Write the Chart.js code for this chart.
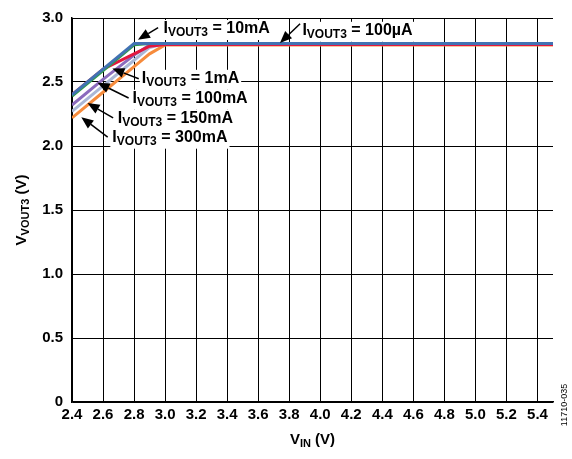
<!DOCTYPE html>
<html lang="en">
<head>
    <meta charset="UTF-8">
    <title>VOUT3 vs VIN</title>
    <script src="https://cdn.jsdelivr.net/npm/chart.js"></script>
    <style>
        body {
            margin: 0;
            padding: 0;
            background: #fff;
        }

        .chart-wrapper {
            width: 572px;
            height: 459px;
        }
    </style>
</head>
<body>
    <div class="chart-wrapper">
        <canvas id="chart" width="572" height="459"></canvas>
    </div>

    <script>
        // input voltage break points (V)
        const vin = [2.4, 2.6, 2.8, 2.9, 3.0, 5.5];

        // output voltage for each load current (V)
        const vout100uA = [2.40, 2.60, 2.80, 2.80, 2.80, 2.80];
        const vout10mA = [2.39, 2.59, 2.79, 2.80, 2.80, 2.80];
        const vout1mA = [2.40, 2.60, 2.72, 2.78, 2.792, 2.792];
        const vout100mA = [2.32, 2.52, 2.71, 2.79, 2.80, 2.80];
        const vout150mA = [2.27, 2.47, 2.67, 2.77, 2.80, 2.80];
        const vout300mA = [2.22, 2.42, 2.62, 2.72, 2.79, 2.79];

        const xTicks = [2.4, 2.6, 2.8, 3.0, 3.2, 3.4, 3.6, 3.8, 4.0, 4.2, 4.4, 4.6, 4.8, 5.0, 5.2, 5.4];
        const yTicks = [0, 0.5, 1.0, 1.5, 2.0, 2.5, 3.0];

        const FONT = '"Liberation Sans", Arial, sans-serif';

        function toPoints(ys) {
            return vin.map((x, i) => ({ x: x, y: ys[i] }));
        }

        // callouts: text start, arrow tail and arrow tip in data units
        const callouts = [
            { text: '10mA', at: [2.99, 2.914], tail: [2.955, 2.925], tip: [2.825, 2.83] },
            { text: '100\u00b5A', at: [3.885, 2.9], tail: [3.87, 2.955], tip: [3.74, 2.805] },
            { text: '1mA', at: [2.85, 2.525], tail: [2.83, 2.525], tip: [2.66, 2.605] },
            { text: '100mA', at: [2.79, 2.369], tail: [2.765, 2.375], tip: [2.565, 2.495] },
            { text: '150mA', at: [2.695, 2.213], tail: [2.665, 2.22], tip: [2.5, 2.335] },
            { text: '300mA', at: [2.66, 2.065], tail: [2.63, 2.07], tip: [2.46, 2.225] }
        ];

        function drawSubText(ctx, x, y, parts, align) {
            // parts: [text, size, baselineShift]
            let total = 0;
            parts.forEach(p => {
                ctx.font = 'bold ' + p[1] + 'px ' + FONT;
                total += ctx.measureText(p[0]).width;
            });
            let cx = align === 'center' ? x - total / 2 : x;
            parts.forEach(p => {
                ctx.font = 'bold ' + p[1] + 'px ' + FONT;
                ctx.fillText(p[0], cx, y + p[2]);
                cx += ctx.measureText(p[0]).width;
            });
            return total;
        }

        function drawArrow(ctx, x0, y0, x1, y1) {
            const ang = Math.atan2(y1 - y0, x1 - x0);
            const headLen = 12;
            const headW = 5;
            const bx = x1 - headLen * Math.cos(ang);
            const by = y1 - headLen * Math.sin(ang);
            ctx.strokeStyle = '#000';
            ctx.lineWidth = 1.5;
            ctx.beginPath();
            ctx.moveTo(x0, y0);
            ctx.lineTo(bx, by);
            ctx.stroke();
            ctx.fillStyle = '#000';
            ctx.beginPath();
            ctx.moveTo(x1, y1);
            ctx.lineTo(bx + headW * Math.sin(ang), by - headW * Math.cos(ang));
            ctx.lineTo(bx - headW * Math.sin(ang), by + headW * Math.cos(ang));
            ctx.closePath();
            ctx.fill();
        }

        const labelsPlugin = {
            id: 'labelsPlugin',
            afterDatasetsDraw(chart) {
                const ctx = chart.ctx;
                const xs = chart.scales.x;
                const ys = chart.scales.y;
                ctx.save();
                ctx.textBaseline = 'middle';
                ctx.textAlign = 'left';
                callouts.forEach(c => {
                    const tx = xs.getPixelForValue(c.at[0]);
                    const ty = ys.getPixelForValue(c.at[1]);
                    const parts = [['I', 16, 0], ['VOUT3', 12, 4], [' = ' + c.text, 16, 0]];
                    let w = 0;
                    parts.forEach(p => {
                        ctx.font = 'bold ' + p[1] + 'px ' + FONT;
                        w += ctx.measureText(p[0]).width;
                    });
                    ctx.fillStyle = '#fff';
                    ctx.fillRect(tx - 2, ty - 9, w + 4, 20);
                    ctx.fillStyle = '#000';
                    drawSubText(ctx, tx, ty, parts, 'left');
                    drawArrow(ctx,
                        xs.getPixelForValue(c.tail[0]), ys.getPixelForValue(c.tail[1]),
                        xs.getPixelForValue(c.tip[0]), ys.getPixelForValue(c.tip[1]));
                });
                ctx.restore();
            },
            afterDraw(chart) {
                const ctx = chart.ctx;
                const area = chart.chartArea;
                ctx.save();
                ctx.fillStyle = '#000';
                ctx.textBaseline = 'middle';
                // x axis title
                drawSubText(ctx, (area.left + area.right) / 2, 440,
                    [['V', 15, 0], ['IN', 11, 4], [' (V)', 15, 0]], 'center');
                // y axis title
                ctx.translate(22, (area.top + area.bottom) / 2);
                ctx.rotate(-Math.PI / 2);
                drawSubText(ctx, 0, 0,
                    [['V', 15, 0], ['VOUT3', 11, 4], [' (V)', 15, 0]], 'center');
                ctx.restore();
                // figure id
                ctx.save();
                ctx.translate(565, 405);
                ctx.rotate(-Math.PI / 2);
                ctx.font = '9px ' + FONT;
                ctx.textAlign = 'center';
                ctx.textBaseline = 'middle';
                ctx.fillStyle = '#000';
                ctx.fillText('11710-035', 0, 0);
                ctx.restore();
            }
        };

        function series(label, ys, color, order) {
            return {
                label: label,
                data: toPoints(ys),
                borderColor: color,
                backgroundColor: color,
                borderWidth: 3,
                pointRadius: 0,
                showLine: true,
                fill: false,
                tension: 0,
                order: order
            };
        }

        new Chart(document.getElementById('chart'), {
            type: 'scatter',
            data: {
                datasets: [
                    series('100\u00b5A', vout100uA, '#4272b3', 0),
                    series('10mA', vout10mA, '#2f9a4c', 1),
                    series('1mA', vout1mA, '#e3173f', 2),
                    series('100mA', vout100mA, '#8b6bbd', 3),
                    series('150mA', vout150mA, '#aab7d6', 4),
                    series('300mA', vout300mA, '#f68b3c', 5)
                ]
            },
            options: {
                responsive: false,
                animation: false,
                layout: {
                    padding: { top: 17, right: 19, left: 0, bottom: 0 }
                },
                plugins: {
                    legend: { display: false },
                    tooltip: { enabled: false }
                },
                scales: {
                    x: {
                        type: 'linear',
                        min: 2.4,
                        max: 5.5,
                        afterBuildTicks: s => { s.ticks = xTicks.map(v => ({ value: v })); },
                        afterFit: s => { s.height = 57; },
                        grid: { color: '#000', lineWidth: 1, drawTicks: false },
                        border: { color: '#000', width: 1.5 },
                        ticks: {
                            color: '#000',
                            padding: 4,
                            maxRotation: 0,
                            autoSkip: false,
                            font: { family: FONT, size: 15, weight: 'bold' },
                            callback: v => v.toFixed(1)
                        }
                    },
                    y: {
                        min: 0,
                        max: 3,
                        afterBuildTicks: s => { s.ticks = yTicks.map(v => ({ value: v })); },
                        afterFit: s => { s.width = 72; },
                        grid: { color: '#000', lineWidth: 1, drawTicks: false },
                        border: { color: '#000', width: 1.5 },
                        ticks: {
                            color: '#000',
                            padding: 9,
                            autoSkip: false,
                            font: { family: FONT, size: 15, weight: 'bold' },
                            callback: v => v === 0 ? '0' : v.toFixed(1)
                        }
                    }
                }
            },
            plugins: [labelsPlugin]
        });
    </script>
</body>
</html>
